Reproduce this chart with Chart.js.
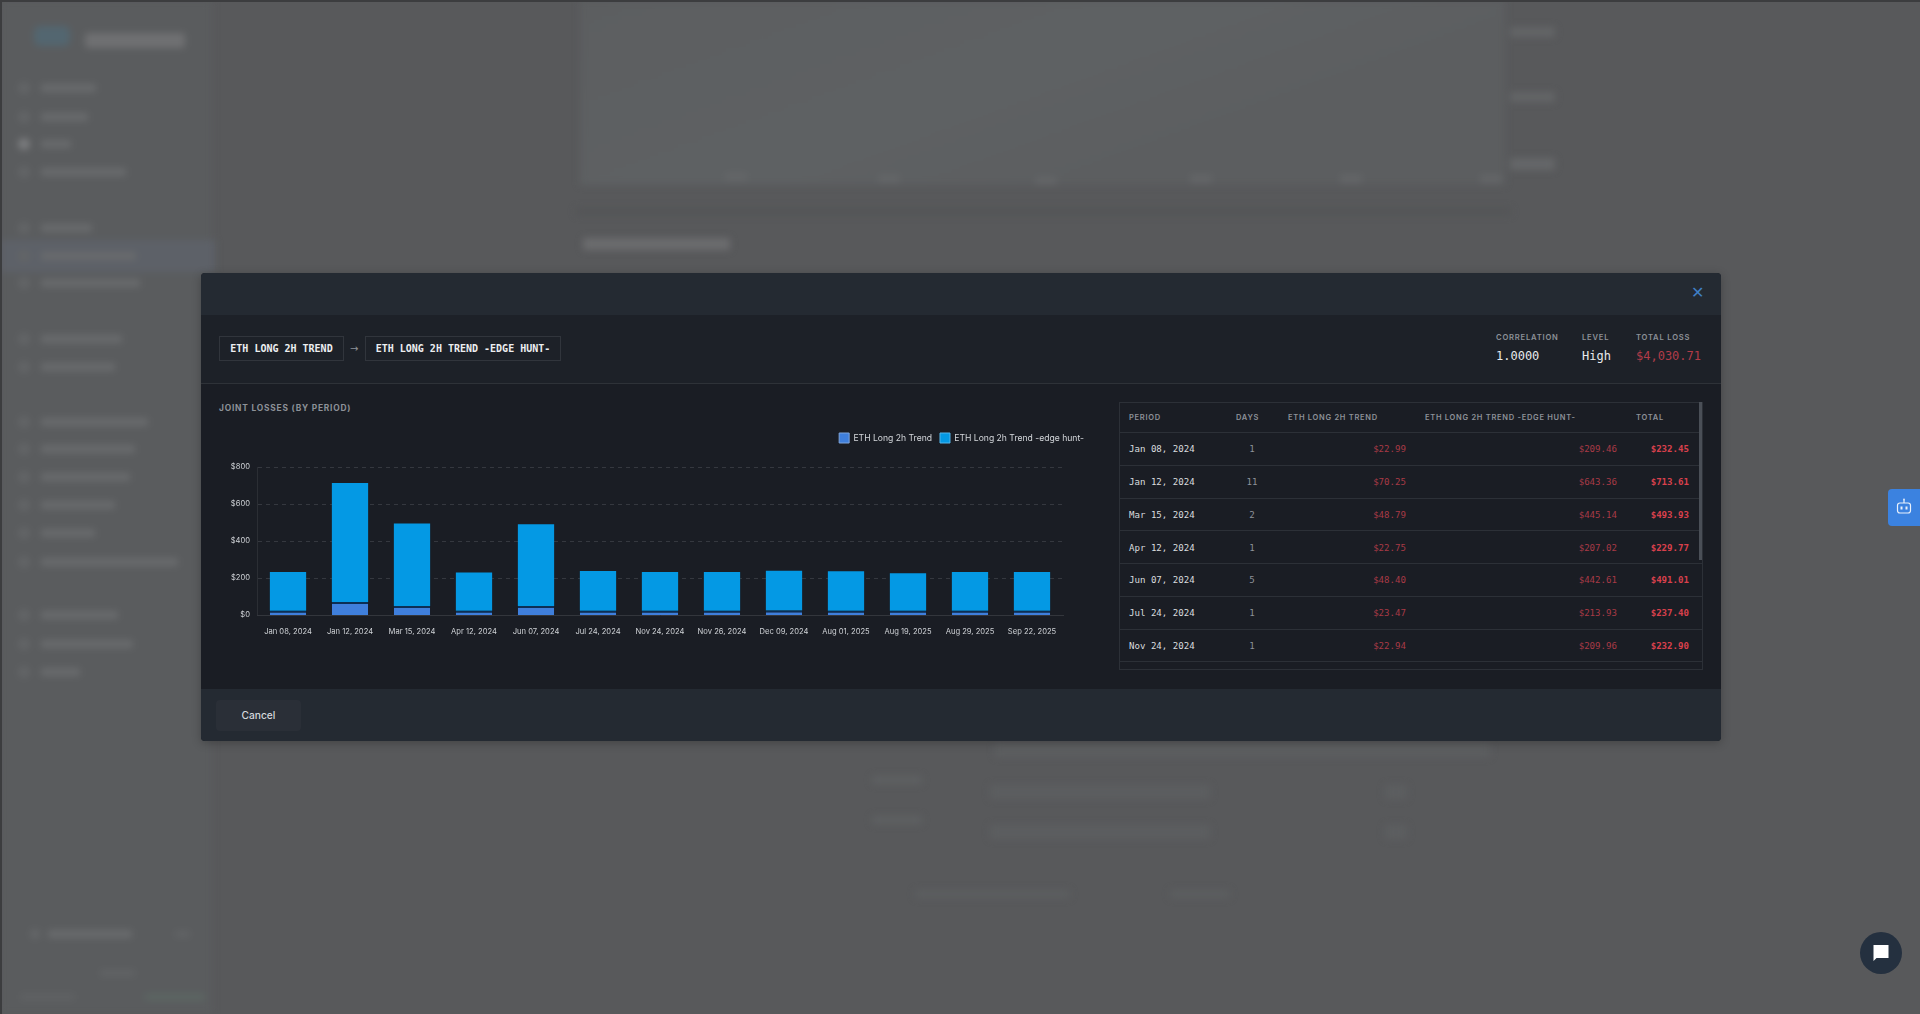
<!DOCTYPE html>
<html>
<head>
<meta charset="utf-8">
<script src="https://cdn.jsdelivr.net/npm/chart.js@4"></script>
<style>
html,body{margin:0;padding:0;width:1920px;height:1014px;overflow:hidden;background:#58595b;font-family:Inter,sans-serif}
.abs{position:absolute;white-space:nowrap}
#bg{position:absolute;left:0;top:0;width:1920px;height:1014px;filter:blur(3.5px)}
#bg div{position:absolute}
#edgeT{position:absolute;left:0;top:0;width:1920px;height:2px;background:#3c3d3f}
#edgeL{position:absolute;left:0;top:0;width:2px;height:1014px;background:#3c3d3f}
#modal{position:absolute;left:201px;top:273px;width:1520px;height:468px;background:#1a1d24;border-radius:4px;overflow:hidden;box-shadow:0 2px 10px rgba(0,0,0,.25)}
.mono{font-family:"DejaVu Sans Mono",monospace}
.lab{font-family:Inter,sans-serif;font-weight:600;color:#8d9198}
#chartWrap{position:absolute;left:219px;top:425px;width:873px;height:227px}
</style>
</head>
<body>
<div id="bg"></div>
<div id="edgeT"></div><div id="edgeL"></div>

<div id="modal">
  <div class="abs" style="left:0;top:0;width:1520px;height:42px;background:#242a32"></div>
  <div class="abs" style="left:0;top:42px;width:1520px;height:69px;background:#1d2128;border-bottom:1px solid #2e3238;box-sizing:border-box"></div>
  <div class="abs" style="left:0;top:416px;width:1520px;height:52px;background:#242a32"></div>
</div>

<div class="abs" style="left:1691px;top:286px;width:12px;height:14px;color:#3f7fc4;font:16px/14px 'DejaVu Sans'">✕</div>

<div class="abs mono" style="left:219px;top:336px;width:125px;height:25px;box-sizing:border-box;border:1px solid #31353c;color:#eceef0;font-weight:700;font-size:10px;line-height:23px;text-align:center">ETH LONG 2H TREND</div>
<div class="abs" style="left:350px;top:341px;color:#8d9198;font:10px/15px 'DejaVu Sans'">→</div>
<div class="abs mono" style="left:365px;top:336px;width:196px;height:25px;box-sizing:border-box;border:1px solid #31353c;color:#eceef0;font-weight:700;font-size:10px;line-height:23px;text-align:center">ETH LONG 2H TREND -EDGE HUNT-</div>

<div class="abs lab" style="left:1496px;top:333px;font-size:7.6px;letter-spacing:.8px;line-height:10px">CORRELATION</div>
<div class="abs mono" style="left:1496px;top:349px;font-size:12px;line-height:15px;color:#e8eaec">1.0000</div>
<div class="abs lab" style="left:1582px;top:333px;font-size:7.6px;letter-spacing:.8px;line-height:10px">LEVEL</div>
<div class="abs mono" style="left:1582px;top:349px;font-size:12px;line-height:15px;color:#e8eaec">High</div>
<div class="abs lab" style="left:1636px;top:333px;font-size:7.6px;letter-spacing:.8px;line-height:10px">TOTAL LOSS</div>
<div class="abs mono" style="left:1636px;top:349px;font-size:12px;line-height:15px;color:#b23c48">$4,030.71</div>

<div class="abs lab" style="left:219px;top:402px;font-size:8.4px;letter-spacing:.8px;line-height:12px;font-weight:700">JOINT LOSSES (BY PERIOD)</div>

<div id="chartWrap"><canvas id="c"></canvas></div>

<div id="table" class="abs" style="left:1119px;top:402px;width:584px;height:268px;box-sizing:border-box;border:1px solid #2c3037;overflow:hidden"></div>
<div class="abs" style="left:1699px;top:402px;width:3px;height:158px;background:#4a4f57"></div>

<div class="abs" style="left:216px;top:700px;width:85px;height:31px;background:#2a2f37;border-radius:4px;color:#d5d8dc;font:500 10.2px/31px Inter,sans-serif;text-align:center">Cancel</div>

<div class="abs" style="left:1888px;top:489px;width:32px;height:37px;background:#3b82e0;border-radius:4px 0 0 4px">
  <svg width="32" height="37" viewBox="0 0 32 37"><g fill="none" stroke="#e8f0fb" stroke-width="1.2"><rect x="9.5" y="14" width="13" height="10" rx="2.5"/><path d="M16 14v-3"/></g><circle cx="16" cy="10.5" r=".9" fill="#e8f0fb"/><rect x="12.5" y="17.5" width="2" height="3" fill="#e8f0fb"/><rect x="17.5" y="17.5" width="2" height="3" fill="#e8f0fb"/></svg>
</div>
<div class="abs" style="left:1860px;top:932px;width:42px;height:42px;border-radius:50%;background:#24303f">
  <svg width="42" height="42" viewBox="0 0 42 42"><path d="M13.5 13h15v13h-12l-3 3z" fill="#fff"/></svg>
</div>

<script>
const categories = ["Jan 08, 2024","Jan 12, 2024","Mar 15, 2024","Apr 12, 2024","Jun 07, 2024","Jul 24, 2024","Nov 24, 2024","Nov 26, 2024","Dec 09, 2024","Aug 01, 2025","Aug 19, 2025","Aug 29, 2025","Sep 22, 2025"];
const seriesA = [22.99,70.25,48.79,22.75,48.40,23.47,22.94,23.0,23.7,23.4,22.4,23.0,23.1];
const seriesB = [209.46,643.36,445.14,207.02,442.61,213.93,209.96,209.0,215.3,213.6,203.6,209.0,209.9];
const yTicks = [0,200,400,600,800];
const seriesNames = ["ETH Long 2h Trend","ETH Long 2h Trend -edge hunt-"];

const tablePeriods = ["Jan 08, 2024","Jan 12, 2024","Mar 15, 2024","Apr 12, 2024","Jun 07, 2024","Jul 24, 2024","Nov 24, 2024"];
const tableDays = [1,11,2,1,5,1,1];
const tableA = ["$22.99","$70.25","$48.79","$22.75","$48.40","$23.47","$22.94"];
const tableB = ["$209.46","$643.36","$445.14","$207.02","$442.61","$213.93","$209.96"];
const tableTotal = ["$232.45","$713.61","$493.93","$229.77","$491.01","$237.40","$232.90"];
const tableHeaders = ["PERIOD","DAYS","ETH LONG 2H TREND","ETH LONG 2H TREND -EDGE HUNT-","TOTAL"];

// blurred page behind the dialog: plain placeholder blocks, no readable text
const sideRows = [[88,96],[117,88],[144,71],[172,126],[228,92],[256,136],[283,140],[339,122],[367,115],[422,148],[449,135],[477,130],[505,115],[533,95],[562,178],[615,118],[644,133],[672,80]];
const bg = document.getElementById('bg');
function block(x,y,w,h,col,r){const d=document.createElement('div');d.style.cssText=`left:${x}px;top:${y}px;width:${w}px;height:${h}px;background:${col};border-radius:${r||0}px`;bg.appendChild(d);}
block(0,0,212,1014,'#5a5c5e');
block(0,240,215,32,'#5d6168');
block(34,26,36,20,'#536670',6);
block(85,33,100,15,'#6f7072',3);
sideRows.forEach(([y,x2],i)=>{block(18,y-6,12,12,i==2?'#7c7d7f':'#636567',6);block(41,y-4,x2-41,8,'#696b6d',2);});
block(30,929,10,10,'#656769',5);block(48,930,84,8,'#696b6d',2);block(175,931,15,6,'#626466',2);
block(100,970,35,6,'#626466',2);block(20,994,55,6,'#606264',2);block(145,994,60,6,'#5c6763',2);
block(580,0,925,185,'linear-gradient(160deg,#5c5e60 0%,#5e6163 45%,#5c5e60 70%)');
block(1510,27,45,10,'#636567',2);block(1510,92,45,10,'#636567',2);block(1510,158,45,12,'#656769',2);
[[735,178],[888,180],[1045,182],[1200,180],[1350,180],[1490,180]].forEach(([x,y])=>block(x-10,y-5,22,8,'#646668',2));
block(576,208,935,7,'#545557');
block(583,238,147,12,'#6b6c6e',2);
block(995,742,495,15,'#5c5e60',2);
block(872,776,50,8,'#5e6062',2);block(990,785,220,14,'#5c5e60',2);block(1385,785,22,14,'#5c5e60',2);
block(872,816,50,8,'#5e6062',2);block(990,825,220,14,'#5c5e60',2);block(1385,825,22,14,'#5c5e60',2);
block(915,890,155,8,'#5c5e60',2);block(1170,890,60,8,'#5c5e60',2);

// table
const tbl = document.getElementById('table');
function cell(txt,css){const d=document.createElement('div');d.className='abs';d.textContent=txt;d.style.cssText+=css;tbl.appendChild(d);}
const ox = 1120, oy = 403;
const headX = [1129,1236,1288,1425,1636];
tableHeaders.forEach((h,i)=>cell(h,`left:${headX[i]-ox}px;top:${417-oy-4}px;font:600 7.5px/10px Inter,sans-serif;letter-spacing:.72px;color:#8d9198`));
const rowH = 32.75, firstLine = 432;
for(let i=0;i<8;i++){const ln=document.createElement('div');ln.className='abs';ln.style.cssText=`left:0;width:584px;height:1px;top:${Math.round(firstLine+i*rowH-oy)}px;background:#2c3037`;tbl.appendChild(ln);}
tablePeriods.forEach((p,i)=>{
  const cy = firstLine+rowH*(i+.5)-oy+1;
  const t = Math.round(cy-6);
  const base = `top:${t}px;line-height:12px;font-family:'DejaVu Sans Mono',monospace;font-size:9.1px;`;
  cell(p,base+`left:${1129-ox}px;color:#d9dcdf`);
  cell(String(tableDays[i]),base+`left:${1232-ox}px;width:40px;text-align:center;color:#8d9198`);
  cell(tableA[i],base+`right:${1703-1406-1}px;color:#a83a46`);
  cell(tableB[i],base+`right:${1703-1617-1}px;color:#a83a46`);
  cell(tableTotal[i],base+`right:${1703-1689-1}px;color:#d8404c;font-weight:700`);
});

// chart
const legendSwatches = [{fill:'#3f7fdc',stroke:'#7ea6dc'},{fill:'#0499e4',stroke:'#55b6ea'}];
const legendSpacer = {id:'legendSpacer',beforeInit(chart){const f=chart.legend.fit;chart.legend.fit=function(){f.call(this);this.height+=14;};}};
new Chart(document.getElementById('c'),{
  type:'bar',
  data:{labels:categories,datasets:[
    {label:seriesNames[0],data:seriesA,backgroundColor:'#3f7fdc',borderColor:'#0c2f55',borderWidth:{top:2,left:0,right:0,bottom:0},borderSkipped:false,stack:'s',barPercentage:.65,categoryPercentage:.9},
    {label:seriesNames[1],data:seriesB,backgroundColor:'#0499e4',borderWidth:0,stack:'s',barPercentage:.65,categoryPercentage:.9}
  ]},
  options:{
    responsive:true,maintainAspectRatio:false,animation:false,
    layout:{padding:0},
    plugins:{
      tooltip:{enabled:false},
      legend:{position:'top',align:'end',labels:{
        boxWidth:10,boxHeight:10,padding:8,color:'#d5d8dc',font:{family:'Inter',size:8.6},
        generateLabels(){return seriesNames.map((n,i)=>({text:n,fillStyle:legendSwatches[i].fill,strokeStyle:legendSwatches[i].stroke,lineWidth:1,fontColor:'#d5d8dc',datasetIndex:i,hidden:false}));}
      }}
    },
    scales:{
      x:{stacked:true,
        grid:{display:false},
        border:{color:'#33363c'},
        ticks:{color:'#cfd2d6',font:{family:'Inter',size:7.6},padding:4,maxRotation:0,autoSkip:false},
        afterFit(s){s.height=37;}
      },
      y:{stacked:true,min:0,max:800,
        afterBuildTicks(s){s.ticks=yTicks.map(v=>({value:v}));},
        grid:{color:'#35383f',drawTicks:false,lineWidth:c=>c.tick.value===0?0:1},
        border:{color:'#2b2e34',dash:[4,4]},
        ticks:{color:'#cfd2d6',font:{family:'Inter',size:7.6},padding:7,callback:v=>'$'+v},
        afterFit(s){s.width=38;}
      },
      pad:{position:'right',display:true,min:0,max:1,grid:{display:false},border:{display:false},ticks:{display:false},afterFit(s){s.width=29;}}
    }
  },
  plugins:[legendSpacer]
});
</script>
</body>
</html>
